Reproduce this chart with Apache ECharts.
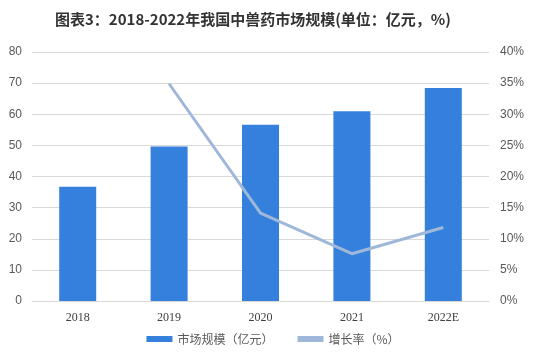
<!DOCTYPE html>
<html><head><meta charset="utf-8">
<script src="https://cdn.jsdelivr.net/npm/echarts@6/dist/echarts.min.js"></script>
<style>html,body{margin:0;padding:0;background:#fff}#c{width:546px;height:356px}</style>
</head><body><div id="c"></div>
<script>
const categories = ['2018','2019','2020','2021','2022E'];
const marketSize = [36.7, 49.6, 56.6, 61.0, 68.4];
const growthRate = ['-', 34.9, 14.1, 7.6, 11.8];
const leftTicks = {min:0, max:80, interval:10};
const rightTicks = {min:0, max:40, interval:5};

const chart = echarts.init(document.getElementById('c'));
chart.setOption({
  backgroundColor:'#fff',
  animation:false,
  title:{text:'图表3：2018-2022年我国中兽药市场规模(单位：亿元，%)', left:50, top:7,
    textStyle:{fontSize:15, fontWeight:'bold', color:'#333', fontFamily:'Noto Sans CJK SC'}},
  legend:{bottom:6, left:'center', itemGap:24, itemWidth:26, itemHeight:6,
    textStyle:{fontSize:12, color:'#595959', fontFamily:'Noto Sans CJK SC'},
    data:[{name:'市场规模（亿元）', icon:'rect'}, {name:'增长率（%）', icon:'rect'}]},
  grid:{left:32, right:57, top:52, bottom:55},
  xAxis:{type:'category', data:categories,
    axisLine:{lineStyle:{color:'#d9d9d9'}}, axisTick:{show:false},
    axisLabel:{color:'#404040', fontSize:12, fontFamily:'Liberation Serif', margin:11}},
  yAxis:[
    {type:'value', min:leftTicks.min, max:leftTicks.max, interval:leftTicks.interval,
     axisLabel:{color:'#595959', fontSize:12, fontFamily:'Liberation Sans', margin:10},
     axisLine:{show:false}, axisTick:{show:false},
     splitLine:{lineStyle:{color:'#d9d9d9'}}},
    {type:'value', min:rightTicks.min, max:rightTicks.max, interval:rightTicks.interval,
     axisLabel:{color:'#595959', fontSize:12, fontFamily:'Liberation Sans', formatter:'{value}%', margin:11},
     axisLine:{show:false}, axisTick:{show:false}, splitLine:{show:false}}
  ],
  series:[
    {name:'市场规模（亿元）', type:'bar', data:marketSize, barWidth:37,
     itemStyle:{color:'#3580dc'}},
    {name:'增长率（%）', type:'line', yAxisIndex:1, data:growthRate, showSymbol:false,
     lineStyle:{color:'#9fb8d9', width:3}, itemStyle:{color:'#9fb8d9'}}
  ]
});
</script></body></html>
